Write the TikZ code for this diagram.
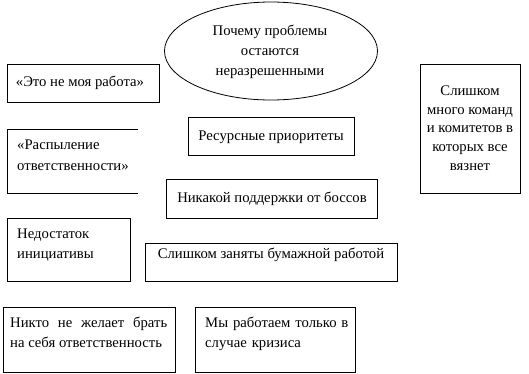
\documentclass[tikz,border=0pt]{standalone}
\usepackage{fontspec}
\setmainfont{Liberation Serif}
\usetikzlibrary{shapes.geometric}
\begin{document}
\begin{tikzpicture}[x=1pt,y=-1pt,
  box/.style={draw, line width=0.8pt, inner sep=0pt, anchor=north west},
  txt/.style={font=\fontsize{14.7}{20}\selectfont, inner sep=0pt},
  oval/.style={draw, ellipse, line width=0.8pt, inner sep=0pt}]
\useasboundingbox (0,0) rectangle (529,373);
% ellipse
\node[oval, minimum width=213, minimum height=98] (q) at (271,51) {};
\node[txt, align=center] (qt) at (270,52) {Почему проблемы\\остаются\\неразрешенными};
% boxes
\node[box, minimum width=152, minimum height=38] (b1) at (7,64) {};
\node[txt, anchor=base] (t1) at (80,86) {«Это не моя работа»};

\draw[line width=0.8pt] (138,129) -- (7,129) -- (7,193) -- (138,193);
\node[txt, anchor=base west, text width=125, align=left, font=\fontsize{14.7}{21}\selectfont] (t2) at (17,149) {«Распыление\\ответственности»};

\node[box, minimum width=166, minimum height=38] (b3) at (188,117) {};
\node[txt, anchor=base] (t3) at (271,140) {Ресурсные приоритеты};

\node[box, minimum width=100, minimum height=129] (b4) at (420,64) {};
\node[txt, align=center, font=\fontsize{14.7}{18.8}\selectfont] (t4) at (470,128) {Слишком\\много команд\\и комитетов в\\которых все\\вязнет};

\node[box, minimum width=211, minimum height=39] (b5) at (166,179) {};
\node[txt, anchor=base] (t5) at (272,202) {Никакой поддержки от боссов};

\node[box, minimum width=123, minimum height=63] (b6) at (7,218) {};
\node[txt, anchor=base west, text width=110, align=left] (t6) at (17,238) {Недостаток\\инициативы};

\node[box, minimum width=252, minimum height=38] (b7) at (145,243) {};
\node[txt, anchor=base] (t7) at (271,258) {Слишком заняты бумажной работой};

\node[box, minimum width=172, minimum height=65] (b8) at (3,307) {};
\node[txt, anchor=base west, text width=157, align=justify] (t8) at (10,327) {Никто не желает брать\linebreak на себя ответственность};

\node[box, minimum width=160, minimum height=65] (b9) at (195,307) {};
\node[txt, anchor=base west, text width=148, align=left] (t9) at (205,327) {Мы работаем только в\\случае кризиса};
\end{tikzpicture}
\end{document}
